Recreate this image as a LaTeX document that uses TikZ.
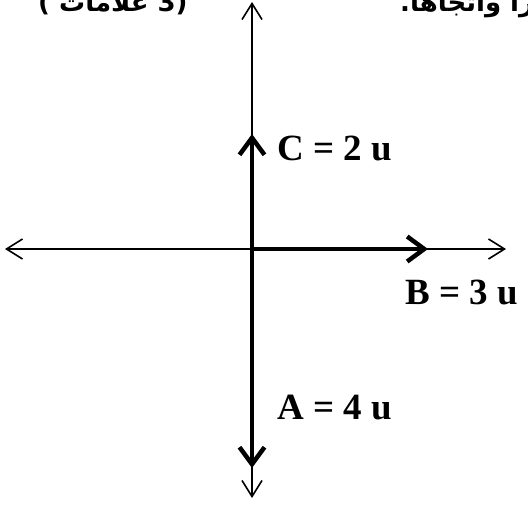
\documentclass[tikz,border=0pt]{standalone}
\usepackage{fontspec}
\setmainfont{Liberation Serif}
\newfontfamily\arabicfont[Script=Arabic]{DejaVu Sans}
\newfontfamily\headlatin{DejaVu Sans}
\TeXXeTstate=1
\usetikzlibrary{arrows.meta}

\tikzset{
  axisline/.style={line width=1.6pt,
    {Straight Barb[length=16pt,width=20pt]}-{Straight Barb[length=16pt,width=20pt]}},
  vecline/.style={line width=4.5pt,-{Straight Barb[length=17pt,width=25pt]}},
  veclabel/.style={font=\fontsize{37}{40}\selectfont\bfseries,anchor=west,inner sep=0pt},
  headtext/.style={font=\bfseries\fontsize{26}{30}\selectfont,inner sep=0pt},
}

\begin{document}
\begin{tikzpicture}[x=1pt,y=-1pt]
        \useasboundingbox (0,0) rectangle (528,506);
        \clip (0,0) rectangle (528,506);
        % axes
        \coordinate (O) at (252,249);
        \coordinate (xl) at (5,249);
        \coordinate (xr) at (506,249);
        \coordinate (yt) at (252,2);
        \coordinate (yb) at (252,498);
        \draw[axisline] (xl) -- (xr);
        \draw[axisline] (yb) -- (yt);
        % vectors
        \coordinate (Ctip) at (252,134);
        \coordinate (Btip) at (428,249);
        \coordinate (Atip) at (252,468);
        \draw[vecline] (O) -- (Ctip);
        \draw[vecline] (O) -- (Btip);
        \draw[vecline] (O) -- (Atip);
        \node[veclabel] (labC) at (277,148) {C = 2 u};
        \node[veclabel] (labB) at (405,292) {B = 3 u};
        \node[veclabel] (labA) at (277,408) {A = 4 u};
        % cut-off question text
        \node[headtext,anchor=base west] (headL) at (38,11)
          {\headlatin(\ {\arabicfont\beginR علامات\endR}\ 3)};
        \node[headtext,anchor=base west] (headR) at (400,11)
          {\arabicfont\beginR مقدارا واتجاها.\endR};
      \end{tikzpicture}
\end{document}
